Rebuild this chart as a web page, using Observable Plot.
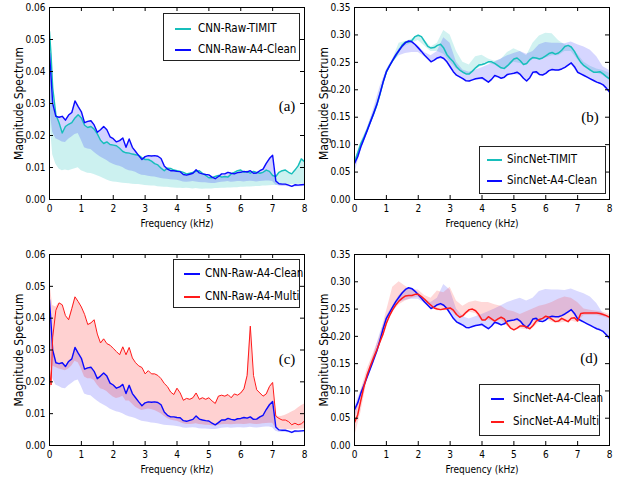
<!DOCTYPE html>
<html><head><meta charset="utf-8">
<script src="https://cdn.jsdelivr.net/npm/d3@7"></script>
<script src="https://cdn.jsdelivr.net/npm/@observablehq/plot@0.6"></script>
<style>
body{margin:0;background:#fff;}
#wrap{position:relative;width:627px;height:482px;overflow:hidden;font-family:"DejaVu Sans Condensed","Liberation Sans Narrow","DejaVu Sans",sans-serif;font-stretch:condensed;}
.panel{position:absolute;}
.legend{position:absolute;border:1px solid #222;background:#fff;box-sizing:border-box;}
.legend .sw{position:absolute;height:2px;}
.legend .tx{position:absolute;font-size:11.5px;line-height:1;transform:translateY(-50%);white-space:nowrap;color:#000;}
.letter{position:absolute;font-family:"Liberation Serif","DejaVu Serif",serif;font-size:15px;line-height:1;transform:translate(-50%,-50%);color:#000;}
</style>
</head><body><div id="wrap"></div>
<script>
// ---------- data ----------
const xTicks = [0,1,2,3,4,5,6,7,8];
const cnnTicks = [0,0.01,0.02,0.03,0.04,0.05,0.06];
const sincTicks = [0,0.05,0.10,0.15,0.20,0.25,0.30,0.35];
const seriesNames = ["CNN-Raw-TIMIT","CNN-Raw-A4-Clean","CNN-Raw-A4-Multi","SincNet-TIMIT","SincNet-A4-Clean","SincNet-A4-Multi"];
const panelLetters = ["(a)","(b)","(c)","(d)"];

const cnnFreq = [0,0.05,0.1,0.2,0.3,0.4,0.5,0.6,0.7,0.8,0.9,1.0,1.1,1.2,1.3,1.4,1.5,1.6,1.7,1.8,1.9,2.0,2.1,2.2,2.3,2.4,2.5,2.6,2.7,2.8,2.9,3.0,3.1,3.2,3.3,3.4,3.5,3.6,3.7,3.8,3.9,4.0,4.1,4.2,4.3,4.4,4.5,4.6,4.7,4.8,4.9,5.0,5.1,5.2,5.3,5.4,5.5,5.6,5.7,5.8,5.9,6.0,6.1,6.2,6.3,6.4,6.5,6.6,6.7,6.8,6.9,7.0,7.1,7.2,7.3,7.4,7.5,7.6,7.7,7.8,7.9,8.0];

const cnnTimit = [0.0525,0.045,0.035,
 0.0265,0.024,0.0208,0.0228,0.0235,0.024,0.0255,0.0265,0.0255,
 0.0232,0.0225,0.0228,0.022,0.0205,0.0185,0.0175,0.018,0.0172,0.017,
 0.0168,0.016,0.015,0.0146,0.0145,0.0142,0.014,0.0138,0.013,0.0125,
 0.0125,0.012,0.0112,0.0108,0.0098,0.009,0.0098,0.0097,0.0092,0.009,
 0.0088,0.0085,0.008,0.0082,0.0085,0.0088,0.009,0.0082,0.0075,0.0068,
 0.0068,0.0072,0.0075,0.007,0.0072,0.007,0.008,0.0085,0.009,0.0092,
 0.0085,0.0088,0.0082,0.0088,0.0085,0.0082,0.0085,0.0092,0.0088,0.0075,
 0.0072,0.0085,0.009,0.0092,0.0085,0.008,0.0092,0.0105,0.0127,0.0118];
const cnnTimitLo = [0.029,0.02,0.014,
 0.011,0.0095,0.009,0.0092,0.009,0.0093,0.0096,0.0099,0.009,
 0.0086,0.0082,0.0081,0.0078,0.0074,0.007,0.0066,0.0061,0.0057,0.0055,
 0.0054,0.0052,0.0051,0.005,0.0049,0.0048,0.0047,0.0047,0.0045,0.0044,
 0.0043,0.0042,0.0042,0.004,0.0039,0.0038,0.0038,0.0037,0.0036,0.0035,
 0.0035,0.0034,0.0035,0.0034,0.0033,0.0034,0.0033,0.0032,0.0033,0.0033,
 0.0033,0.0034,0.0034,0.0035,0.0035,0.0036,0.0036,0.0037,0.0037,0.0038,
 0.0038,0.0039,0.0039,0.004,0.0041,0.0041,0.0042,0.0042,0.0043,0.0044,
 0.0044,0.0045,0.0046,0.0046,0.0047,0.0047,0.0047,0.0048,0.0048,0.0049];
const cnnClean = [0.0458,0.038,0.03,
 0.026,0.0257,0.026,0.0248,0.0264,0.0272,0.0308,0.029,0.0274,
 0.024,0.0244,0.0246,0.0233,0.021,0.0218,0.0228,0.0218,0.0196,0.019,
 0.018,0.0184,0.0192,0.0163,0.0189,0.0163,0.015,0.0137,0.0125,0.0134,
 0.0137,0.0136,0.0137,0.0135,0.0128,0.0105,0.0095,0.009,0.009,0.0088,
 0.0087,0.0078,0.0076,0.0079,0.0082,0.0093,0.0083,0.008,0.0078,0.0077,
 0.007,0.0065,0.0072,0.008,0.008,0.0085,0.0082,0.008,0.0084,0.0085,
 0.0088,0.0086,0.009,0.0082,0.0083,0.009,0.0095,0.0113,0.0128,0.0138,
 0.0058,0.0049,0.0048,0.0048,0.0045,0.0041,0.0046,0.0045,0.0046,0.0047];
const cnnCleanLo = [0.03,0.025,0.021,
 0.019,0.0185,0.018,0.0178,0.0188,0.0195,0.0203,0.0206,0.0185,
 0.0162,0.0158,0.0156,0.0148,0.014,0.0133,0.0127,0.0122,0.0115,0.011,
 0.0106,0.0104,0.01,0.0094,0.009,0.0088,0.0085,0.008,0.0076,0.0075,
 0.0073,0.0071,0.007,0.0068,0.0066,0.0064,0.0063,0.0062,0.0061,0.006,
 0.0058,0.0055,0.0054,0.0055,0.0056,0.0055,0.0053,0.0052,0.0052,0.0051,
 0.005,0.005,0.0052,0.0054,0.0055,0.0056,0.0054,0.0055,0.0056,0.0056,
 0.0055,0.0056,0.0057,0.0056,0.0055,0.0056,0.0057,0.0058,0.0058,0.0056,
 0.0045,0.0042,0.0041,0.0041,0.004,0.0038,0.0039,0.004,0.004,0.0041];
const cnnMulti = [0.024,0.019,0.034,
 0.0425,0.0448,0.0442,0.0408,0.0395,0.043,0.0467,0.0452,0.0435,
 0.0412,0.038,0.0385,0.0395,0.035,0.0322,0.0335,0.032,0.0315,0.0305,
 0.0295,0.0285,0.031,0.0285,0.0308,0.0275,0.026,0.025,0.0245,0.0225,
 0.0235,0.0225,0.0225,0.022,0.021,0.0195,0.0185,0.0168,0.016,0.018,
 0.0165,0.0142,0.0148,0.0145,0.015,0.0165,0.0145,0.015,0.0145,0.015,
 0.014,0.0132,0.0155,0.0158,0.0155,0.016,0.015,0.0162,0.0158,0.0165,
 0.0178,0.022,0.0375,0.022,0.0175,0.0165,0.0155,0.0162,0.0185,0.0198,
 0.0092,0.0085,0.008,0.008,0.0075,0.0065,0.007,0.0065,0.0068,0.0077];
const cnnMultiLo = [0.019,0.018,0.025,
 0.0245,0.024,0.0238,0.0235,0.024,0.025,0.0265,0.026,0.024,
 0.0215,0.021,0.021,0.0205,0.019,0.0178,0.0175,0.017,0.016,0.0152,
 0.0148,0.015,0.0155,0.014,0.014,0.013,0.012,0.0115,0.011,0.0112,
 0.0115,0.0113,0.011,0.0105,0.01,0.0092,0.0085,0.008,0.0078,0.0076,
 0.0072,0.0068,0.0066,0.0066,0.0067,0.0068,0.0066,0.0065,0.0064,0.0064,
 0.0062,0.0061,0.0063,0.0065,0.0066,0.0066,0.0065,0.0066,0.0067,0.0067,
 0.0066,0.0067,0.0068,0.0067,0.0066,0.0067,0.0068,0.0069,0.007,0.007,
 0.0054,0.0052,0.0051,0.005,0.005,0.0049,0.005,0.0051,0.0052,0.0053];
const cnnMultiHi = [0.052,0.048,0.044,
 0.0435,0.0448,0.0442,0.0408,0.0395,0.043,0.0467,0.0452,0.0435,
 0.0412,0.038,0.0385,0.0395,0.035,0.0322,0.0335,0.032,0.0315,0.0305,
 0.0295,0.0285,0.031,0.0285,0.0308,0.0275,0.026,0.025,0.0245,0.0225,
 0.0235,0.0225,0.0225,0.022,0.021,0.0195,0.0185,0.0168,0.016,0.018,
 0.0165,0.0142,0.0148,0.0145,0.015,0.0165,0.0145,0.015,0.0145,0.015,
 0.014,0.0132,0.0155,0.0158,0.0155,0.016,0.015,0.0162,0.0158,0.0165,
 0.0178,0.022,0.0375,0.022,0.0175,0.0165,0.0155,0.0162,0.0185,0.0198,
 0.0095,0.009,0.0092,0.0095,0.01,0.0105,0.011,0.0118,0.0125,0.013];

const sincFreq = [0,0.1,0.2,0.3,0.4,0.5,0.6,0.7,0.8,0.9,1.0,1.1,1.2,1.3,1.4,1.5,1.6,1.7,1.8,1.9,2.0,2.1,2.2,2.3,2.4,2.5,2.6,2.7,2.8,2.9,3.0,3.1,3.2,3.3,3.4,3.5,3.6,3.7,3.8,3.9,4.0,4.1,4.2,4.3,4.4,4.5,4.6,4.7,4.8,4.9,5.0,5.1,5.2,5.3,5.4,5.5,5.6,5.7,5.8,5.9,6.0,6.1,6.2,6.3,6.4,6.5,6.6,6.7,6.8,6.9,7.0,7.1,7.2,7.3,7.4,7.5,7.6,7.7,7.8,7.9,8.0];
const sincTimit = [0.068,0.085,0.102,0.114,0.127,0.142,0.156,0.172,0.192,0.214,0.232,
 0.244,0.253,0.262,0.272,0.282,0.287,0.287,0.29,0.297,0.2995,
 0.297,0.288,0.279,0.276,0.277,0.281,0.283,0.276,0.264,0.257,
 0.251,0.242,0.236,0.232,0.229,0.229,0.234,0.24,0.245,0.246,
 0.248,0.251,0.251,0.248,0.244,0.24,0.239,0.244,0.25,0.256,
 0.258,0.253,0.246,0.248,0.255,0.259,0.258,0.256,0.258,0.262,
 0.266,0.268,0.265,0.267,0.272,0.279,0.281,0.278,0.27,0.259,
 0.25,0.244,0.24,0.236,0.232,0.232,0.233,0.229,0.224,0.22];
const sincClean = [0.0656,0.078,0.096,0.111,0.126,0.1415,0.157,0.173,0.193,0.2145,0.233,
 0.2436,0.254,0.264,0.272,0.28,0.286,0.289,0.2874,0.2825,0.2764,
 0.27,0.263,0.257,0.251,0.254,0.258,0.26,0.257,0.251,0.242,
 0.233,0.2266,0.2236,0.2205,0.2163,0.216,0.218,0.22,0.221,0.222,
 0.218,0.214,0.219,0.226,0.224,0.221,0.223,0.228,0.229,0.23,
 0.232,0.228,0.221,0.216,0.222,0.232,0.233,0.228,0.227,0.23,
 0.235,0.237,0.236,0.236,0.238,0.241,0.245,0.249,0.242,0.232,
 0.229,0.226,0.223,0.22,0.217,0.214,0.212,0.209,0.203,0.196];
const sincMulti = [0.042,0.056,0.083,0.109,0.13,0.146,0.161,0.175,0.19,0.205,0.224,
 0.238,0.249,0.258,0.265,0.27,0.274,0.275,0.275,0.277,0.277,
 0.273,0.268,0.262,0.257,0.252,0.25,0.249,0.25,0.251,0.252,
 0.248,0.24,0.235,0.238,0.244,0.249,0.25,0.247,0.24,0.23,
 0.23,0.236,0.232,0.228,0.232,0.235,0.232,0.222,0.215,0.212,
 0.215,0.219,0.219,0.217,0.214,0.22,0.228,0.231,0.233,0.237,
 0.235,0.231,0.227,0.228,0.233,0.23,0.227,0.233,0.234,0.228,
 0.242,0.243,0.243,0.243,0.243,0.243,0.242,0.24,0.238,0.235];

const sincBandFreq = [0,0.2,0.4,0.6,0.8,1.0,1.2,1.4,1.6,1.8,2.0,2.2,2.4,2.6,2.8,3.0,3.2,3.4,3.6,3.8,4.0,4.2,4.4,4.6,4.8,5.0,5.2,5.4,5.6,5.8,6.0,6.2,6.4,6.6,6.8,7.0,7.2,7.4,7.6,7.8,8.0];
const sincTimitLo = [0.065,0.1,0.125,0.155,0.19,0.23,0.25,0.268,0.28,0.285,0.29,0.28,0.27,0.27,0.265,0.25,0.238,0.23,0.228,0.238,0.243,0.248,0.245,0.238,0.24,0.25,0.248,0.245,0.255,0.255,0.258,0.262,0.262,0.27,0.27,0.255,0.242,0.234,0.23,0.226,0.218];
const sincTimitHi = [0.07,0.105,0.13,0.16,0.195,0.235,0.255,0.285,0.288,0.292,0.3,0.29,0.278,0.285,0.308,0.3,0.27,0.25,0.245,0.26,0.263,0.256,0.252,0.255,0.268,0.275,0.27,0.262,0.285,0.298,0.303,0.302,0.29,0.282,0.278,0.265,0.25,0.243,0.238,0.235,0.23];
const sincCleanLo = [0.045,0.09,0.12,0.15,0.19,0.228,0.25,0.262,0.266,0.268,0.268,0.26,0.25,0.255,0.255,0.24,0.225,0.218,0.214,0.218,0.218,0.213,0.222,0.22,0.225,0.228,0.226,0.215,0.23,0.226,0.228,0.235,0.234,0.238,0.246,0.23,0.225,0.218,0.213,0.207,0.195];
const sincCleanHi = [0.07,0.1,0.13,0.165,0.205,0.236,0.256,0.275,0.287,0.289,0.28,0.268,0.262,0.27,0.295,0.285,0.25,0.236,0.232,0.236,0.24,0.245,0.25,0.256,0.262,0.266,0.27,0.265,0.27,0.282,0.286,0.285,0.285,0.284,0.287,0.282,0.278,0.272,0.26,0.242,0.235];
const sincMultiLo = [0.015,0.06,0.12,0.155,0.185,0.22,0.245,0.258,0.265,0.27,0.272,0.262,0.252,0.247,0.247,0.248,0.238,0.234,0.244,0.242,0.228,0.23,0.226,0.23,0.218,0.21,0.214,0.212,0.215,0.226,0.232,0.226,0.224,0.226,0.228,0.225,0.238,0.238,0.238,0.236,0.232];
const sincMultiHi = [0.06,0.1,0.14,0.17,0.2,0.245,0.29,0.3,0.292,0.285,0.285,0.275,0.27,0.283,0.28,0.29,0.265,0.255,0.262,0.265,0.262,0.262,0.258,0.255,0.248,0.245,0.24,0.245,0.25,0.255,0.258,0.262,0.268,0.272,0.27,0.262,0.25,0.248,0.246,0.244,0.24];

// ---------- styling ----------
const CYAN = "#17bebb", BLUE = "#0a0aff", RED = "#ff1a1a";
const FONT = '"DejaVu Sans Condensed","Liberation Sans Narrow","DejaVu Sans",sans-serif';

function rows(xs, a, b) { return xs.map((x, i) => ({x, a: a[i], b: b ? b[i] : undefined})); }

function panel(cfg) {
  const fh = cfg.height - cfg.mt - cfg.mb;
  const fw = cfg.width - cfg.ml - cfg.mr;
  const marks = [];
  for (const b of cfg.bands) {
    marks.push(Plot.areaY(rows(b.x, b.lo, b.hi), {x: "x", y1: "a", y2: "b", fill: b.color, fillOpacity: b.op, clip: true}));
  }
  for (const l of cfg.lines) {
    marks.push(Plot.line(rows(l.x, l.y), {x: "x", y: "a", stroke: l.color, strokeWidth: l.w, clip: true}));
  }
  marks.push(Plot.frame({stroke: "#000", strokeWidth: 1}));
  marks.push(Plot.tickX(xTicks, {x: d => d, insetTop: fh - 4, stroke: "#000"}));
  marks.push(Plot.tickX(xTicks, {x: d => d, insetBottom: fh - 4, stroke: "#000"}));
  marks.push(Plot.tickY(cfg.yTicks, {y: d => d, insetRight: fw - 4, stroke: "#000"}));
  marks.push(Plot.tickY(cfg.yTicks, {y: d => d, insetLeft: fw - 4, stroke: "#000"}));
  marks.push(Plot.axisX(xTicks, {tickSize: 0, tickPadding: 5, tickFormat: d => String(d), label: null, fontSize: 10}));
  marks.push(Plot.axisY(cfg.yTicks, {tickSize: 0, tickPadding: 4, tickFormat: d3.format(".2f"), label: null, fontSize: 10}));
  marks.push(Plot.text(["Frequency (kHz)"], {frameAnchor: "bottom", dy: 27, fontSize: 10, text: d => d, textAnchor: "middle"}));
  marks.push(Plot.text(["Magnitude Spectrum"], {frameAnchor: "left", dx: -30, rotate: -90, fontSize: 12, text: d => d, textAnchor: "middle", fontFamily: '"DejaVu Sans",sans-serif'}));
  const svg = Plot.plot({
    width: cfg.width, height: cfg.height,
    marginLeft: cfg.ml, marginRight: cfg.mr, marginTop: cfg.mt, marginBottom: cfg.mb,
    x: {domain: [0, 8]},
    y: {domain: cfg.yDomain},
    style: {fontFamily: FONT, fontSize: "10px", background: "transparent", color: "#000", overflow: "visible"},
    marks
  });
  const div = document.createElement("div");
  div.className = "panel";
  div.style.left = cfg.left + "px";
  div.style.top = cfg.top + "px";
  div.appendChild(svg);
  return div;
}

const wrap = document.getElementById("wrap");

wrap.appendChild(panel({
  left: 0, top: 0, width: 313, height: 240, ml: 49, mr: 9, mt: 7, mb: 41,
  yDomain: [0, 0.06], yTicks: cnnTicks,
  bands: [
    {x: cnnFreq, lo: cnnTimitLo, hi: cnnTimit, color: CYAN, op: 0.22},
    {x: cnnFreq, lo: cnnCleanLo, hi: cnnClean, color: BLUE, op: 0.18}
  ],
  lines: [
    {x: cnnFreq, y: cnnTimit, color: CYAN, w: 1.4},
    {x: cnnFreq, y: cnnClean, color: BLUE, w: 1.4}
  ]
}));
wrap.appendChild(panel({
  left: 313, top: 0, width: 314, height: 240, ml: 41, mr: 18, mt: 7, mb: 41,
  yDomain: [0, 0.35], yTicks: sincTicks,
  bands: [
    {x: sincBandFreq, lo: sincTimitLo, hi: sincTimitHi, color: CYAN, op: 0.2},
    {x: sincBandFreq, lo: sincCleanLo, hi: sincCleanHi, color: BLUE, op: 0.17}
  ],
  lines: [
    {x: sincFreq, y: sincTimit, color: CYAN, w: 1.5},
    {x: sincFreq, y: sincClean, color: BLUE, w: 1.5}
  ]
}));
wrap.appendChild(panel({
  left: 0, top: 240, width: 313, height: 242, ml: 49, mr: 9, mt: 14, mb: 37,
  yDomain: [0, 0.06], yTicks: cnnTicks,
  bands: [
    {x: cnnFreq, lo: cnnCleanLo, hi: cnnClean, color: BLUE, op: 0.17},
    {x: cnnFreq, lo: cnnMultiLo, hi: cnnMultiHi, color: RED, op: 0.2}
  ],
  lines: [
    {x: cnnFreq, y: cnnClean, color: BLUE, w: 1.4},
    {x: cnnFreq, y: cnnMulti, color: RED, w: 1}
  ]
}));
wrap.appendChild(panel({
  left: 313, top: 240, width: 314, height: 242, ml: 41, mr: 18, mt: 14, mb: 37,
  yDomain: [0, 0.35], yTicks: sincTicks,
  bands: [
    {x: sincBandFreq, lo: sincCleanLo, hi: sincCleanHi, color: BLUE, op: 0.15},
    {x: sincBandFreq, lo: sincMultiLo, hi: sincMultiHi, color: RED, op: 0.17}
  ],
  lines: [
    {x: sincFreq, y: sincClean, color: BLUE, w: 1.5},
    {x: sincFreq, y: sincMulti, color: RED, w: 1.5}
  ]
}));

// ---------- legends ----------
const legends = [
  {left: 163, top: 13, w: 137, h: 48, sw: [11, 27], tx: 34, items: [[15, 0, CYAN], [36, 1, BLUE]]},
  {left: 479, top: 146, w: 127, h: 48, sw: [7, 22], tx: 27, items: [[13, 3, CYAN], [34, 4, BLUE]]},
  {left: 173, top: 259, w: 127, h: 49, sw: [10, 26], tx: 31, items: [[14, 1, BLUE], [37, 2, RED]]},
  {left: 479, top: 384, w: 121, h: 52, sw: [11, 24], tx: 33, items: [[14, 4, BLUE], [37, 5, RED]]}
];
for (const L of legends) {
  const d = document.createElement("div");
  d.className = "legend";
  Object.assign(d.style, {left: L.left + "px", top: L.top + "px", width: L.w + "px", height: L.h + "px"});
  for (const [cy, si, col] of L.items) {
    const s = document.createElement("div");
    s.className = "sw";
    Object.assign(s.style, {left: L.sw[0] + "px", width: (L.sw[1] - L.sw[0]) + "px", top: (cy - 1) + "px", background: col});
    d.appendChild(s);
    const t = document.createElement("div");
    t.className = "tx";
    t.style.left = L.tx + "px";
    t.style.top = cy + "px";
    t.textContent = seriesNames[si];
    d.appendChild(t);
  }
  wrap.appendChild(d);
}
const letterPos = [[287, 106], [590, 117], [287, 359], [589, 358]];
panelLetters.forEach((s, i) => {
  const e = document.createElement("div");
  e.className = "letter";
  e.style.left = letterPos[i][0] + "px";
  e.style.top = letterPos[i][1] + "px";
  e.textContent = s;
  wrap.appendChild(e);
});
</script>
</body></html>
